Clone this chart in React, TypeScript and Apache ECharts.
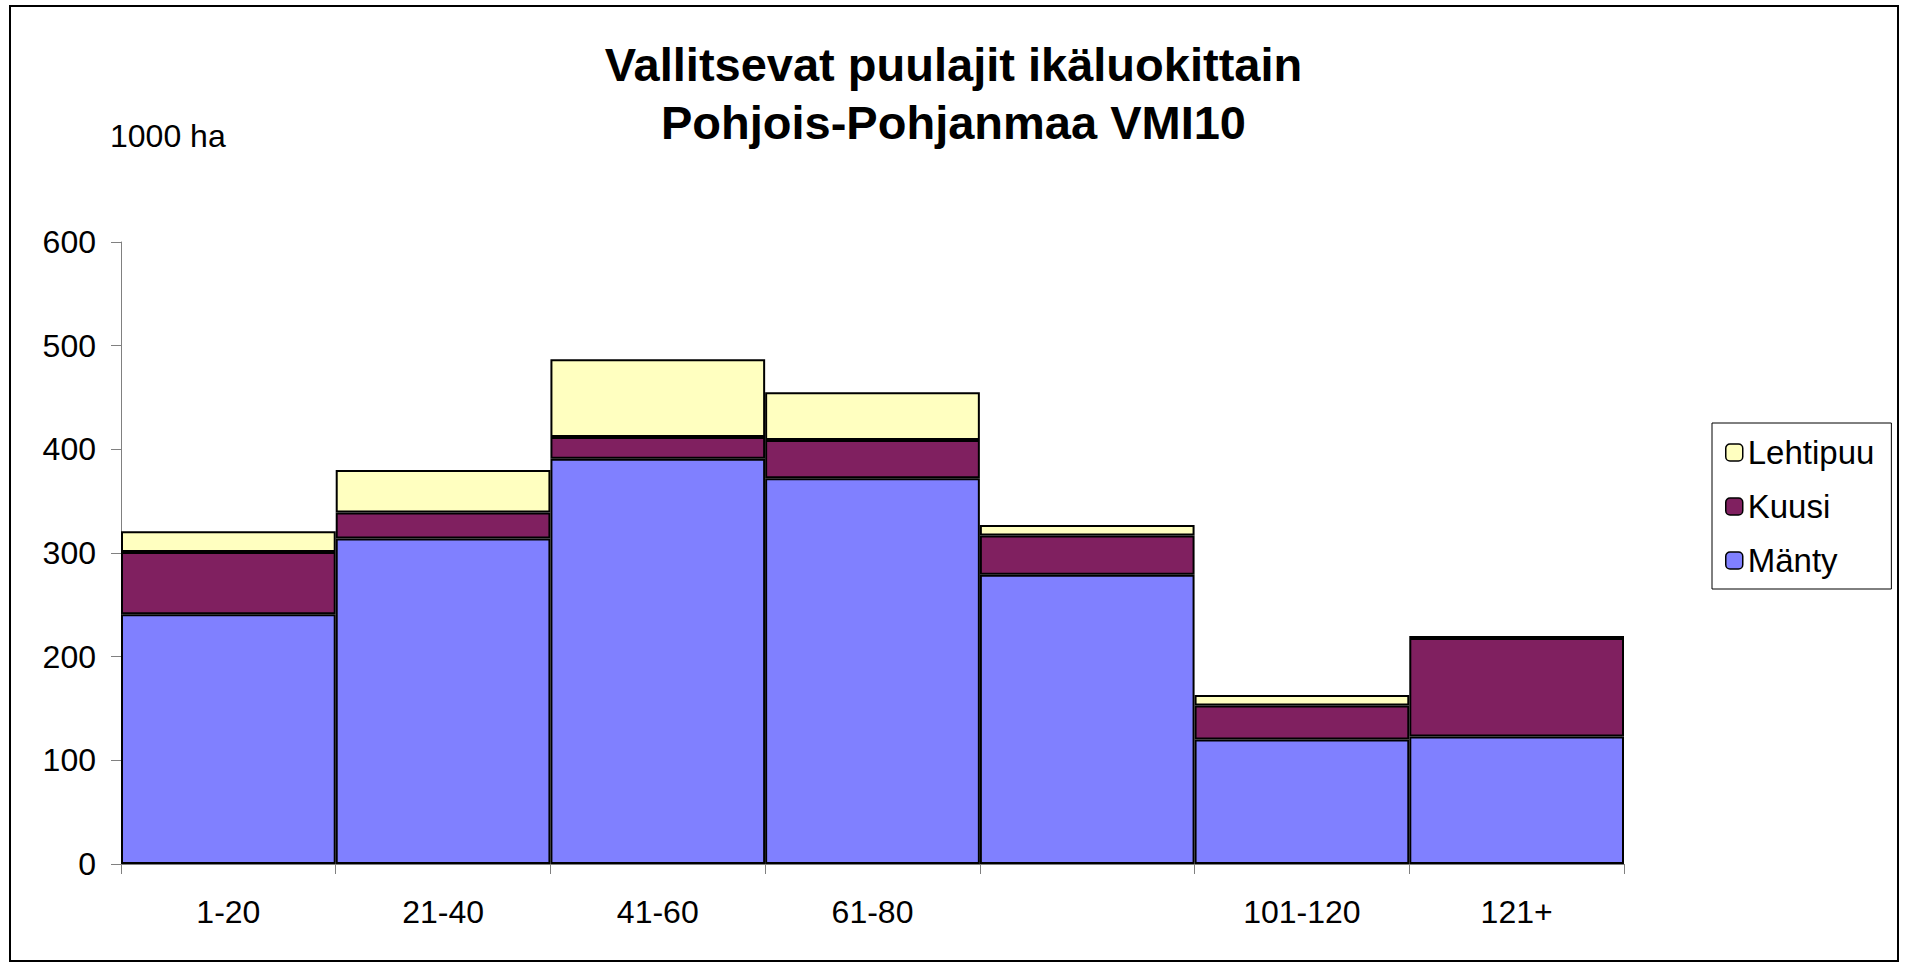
import React, { useEffect, useRef } from "react";
import * as echarts from "echarts";

const categories = ["1-20", "21-40", "41-60", "61-80", "81-100", "101-120", "121+"];
const hiddenLabels = ["81-100"];
const manty = [241, 314, 391, 372, 279, 120, 123];
const kuusi = [60, 25, 21, 37, 38, 33, 95];
const lehtipuu = [20, 41, 75, 46, 10, 10, 2];
const yTicks = { min: 0, max: 600, interval: 100 };
const titleLines = ["Vallitsevat puulajit ikäluokittain", "Pohjois-Pohjanmaa VMI10"];
const unitLabel = "1000 ha";

const FONT = '"Liberation Sans", Arial, Helvetica, sans-serif';

export default function App() {
  const ref = useRef<HTMLDivElement>(null);
  useEffect(() => {
    if (!ref.current) return;
    const chart = echarts.init(ref.current, null, { renderer: "svg" });
    const barBase = {
      type: "bar",
      stack: "total",
      barCategoryGap: "0%",
      itemStyle: { borderColor: "#000", borderWidth: 2 },
      emphasis: { disabled: true },
    };
    chart.setOption({
      animation: false,
      backgroundColor: "#fff",
      textStyle: { fontFamily: FONT },
      title: {
        text: titleLines.join("\n"),
        left: "center",
        top: 30,
        textStyle: {
          fontFamily: FONT,
          fontSize: 47,
          fontWeight: "bold",
          color: "#000",
          lineHeight: 58,
        },
      },
      legend: {
        orient: "vertical",
        left: 1712,
        top: 423,
        data: ["Lehtipuu", "Kuusi", "Mänty"],
        itemWidth: 17,
        itemHeight: 17,
        itemGap: 21,
        itemStyle: { borderColor: "#000", borderWidth: 1.5 },
        padding: [13, 17, 12, 13],
        borderColor: "#000",
        borderWidth: 1,
        textStyle: { fontFamily: FONT, fontSize: 33, color: "#000", lineHeight: 33 },
      },
      grid: { left: 121, right: 283, top: 242, bottom: 103, containLabel: false },
      xAxis: {
        type: "category",
        data: categories,
        axisLine: { lineStyle: { color: "#808080", width: 1 } },
        axisTick: { show: true, length: 10, lineStyle: { color: "#808080" } },
        axisLabel: {
          interval: 0,
          margin: 32,
          fontFamily: FONT,
          fontSize: 32,
          color: "#000",
          formatter: (v: string) => (hiddenLabels.includes(v) ? "" : v),
        },
      },
      yAxis: {
        type: "value",
        min: yTicks.min,
        max: yTicks.max,
        interval: yTicks.interval,
        axisLine: { show: true, lineStyle: { color: "#808080", width: 1 } },
        axisTick: { show: true, length: 10, lineStyle: { color: "#808080" } },
        splitLine: { show: false },
        axisLabel: { margin: 25, fontFamily: FONT, fontSize: 32, color: "#000" },
      },
      series: [
        { ...barBase, name: "Mänty", data: manty, itemStyle: { ...barBase.itemStyle, color: "#8080FF" } },
        { ...barBase, name: "Kuusi", data: kuusi, itemStyle: { ...barBase.itemStyle, color: "#802060" } },
        { ...barBase, name: "Lehtipuu", data: lehtipuu, itemStyle: { ...barBase.itemStyle, color: "#FFFFC0" } },
      ],
      graphic: [
        {
          type: "rect",
          shape: { x: 10, y: 6, width: 1888, height: 955 },
          style: { fill: "none", stroke: "#000", lineWidth: 2 },
          silent: true,
        },
        {
          type: "text",
          x: 110,
          y: 136,
          style: {
            text: unitLabel,
            fontFamily: FONT,
            fontSize: 32,
            fill: "#000",
            textVerticalAlign: "middle",
            verticalAlign: "middle",
          },
        },
      ],
    });
    return () => chart.dispose();
  }, []);
  return (
    <div
      ref={ref}
      style={{ position: "fixed", left: 0, top: 0, width: 1907, height: 967, background: "#fff" }}
    />
  );
}
